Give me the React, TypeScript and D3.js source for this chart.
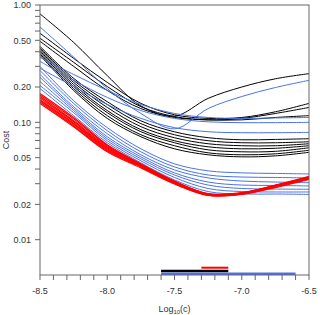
import React from 'react'
import * as d3 from 'd3'

// log10(c) sample positions shared by every curve
const logC = [-8.5, -8.25, -8.0, -7.75, -7.5, -7.25, -7.0, -6.75, -6.5]

const blackCurves: number[][] = [
  [0.84, 0.48, 0.25, 0.138, 0.113, 0.16, 0.2, 0.235, 0.26],
  [0.575, 0.351, 0.219, 0.145, 0.116, 0.108, 0.11, 0.123, 0.145],
  [0.521, 0.325, 0.202, 0.136, 0.112, 0.105, 0.108, 0.119, 0.134],
  [0.491, 0.3, 0.187, 0.131, 0.11, 0.105, 0.105, 0.11, 0.114],
  [0.445, 0.237, 0.15, 0.103, 0.083, 0.074, 0.071, 0.0715, 0.0725],
  [0.432, 0.228, 0.142, 0.0975, 0.0784, 0.0697, 0.067, 0.067, 0.0683],
  [0.42, 0.219, 0.134, 0.0919, 0.0739, 0.0657, 0.0632, 0.0632, 0.0657],
  [0.408, 0.21, 0.126, 0.0866, 0.0697, 0.0619, 0.0595, 0.0601, 0.0632],
  [0.396, 0.202, 0.121, 0.0832, 0.067, 0.0583, 0.0561, 0.0566, 0.0607],
  [0.384, 0.194, 0.114, 0.0784, 0.0632, 0.055, 0.0529, 0.0539, 0.0578],
  [0.373, 0.187, 0.108, 0.0754, 0.0595, 0.0529, 0.0508, 0.0518, 0.0555],
]

const blueCurves: number[][] = [
  [0.65, 0.36, 0.194, 0.119, 0.088, 0.131, 0.166, 0.198, 0.228],
  [0.358, 0.256, 0.187, 0.142, 0.119, 0.11, 0.108, 0.109, 0.11],
  [0.331, 0.228, 0.163, 0.126, 0.108, 0.101, 0.0994, 0.0994, 0.1],
  [0.289, 0.202, 0.142, 0.108, 0.0901, 0.0832, 0.0816, 0.0816, 0.0821],
  [0.3, 0.153, 0.0901, 0.0595, 0.0443, 0.0386, 0.0371, 0.0367, 0.0363],
  [0.277, 0.145, 0.0849, 0.0561, 0.0417, 0.0356, 0.0342, 0.0339, 0.0336],
  [0.256, 0.136, 0.08, 0.0529, 0.0393, 0.0336, 0.0316, 0.031, 0.0306],
  [0.242, 0.131, 0.0754, 0.0508, 0.0371, 0.031, 0.0292, 0.029, 0.0287],
  [0.223, 0.126, 0.0725, 0.0489, 0.0356, 0.0292, 0.0273, 0.027, 0.0269],
  [0.206, 0.121, 0.0697, 0.047, 0.0339, 0.0273, 0.0257, 0.0255, 0.0255],
  [0.194, 0.114, 0.067, 0.0452, 0.0323, 0.0257, 0.0245, 0.0245, 0.0243],
]

const redCurves: number[][] = [
  [0.176, 0.11, 0.0644, 0.0443, 0.0316, 0.0247, 0.0252, 0.0292, 0.0346],
  [0.171, 0.107, 0.0632, 0.0439, 0.0313, 0.0245, 0.025, 0.029, 0.0342],
  [0.166, 0.103, 0.0619, 0.0434, 0.031, 0.0245, 0.025, 0.029, 0.0342],
  [0.161, 0.101, 0.0607, 0.043, 0.031, 0.0243, 0.0247, 0.0287, 0.0339],
  [0.156, 0.0984, 0.0595, 0.0426, 0.0307, 0.0243, 0.0247, 0.0287, 0.0336],
  [0.153, 0.0965, 0.0583, 0.0422, 0.0304, 0.024, 0.0245, 0.0284, 0.0333],
  [0.149, 0.0937, 0.0572, 0.0417, 0.0301, 0.024, 0.0245, 0.0281, 0.0329],
  [0.145, 0.0919, 0.0561, 0.0409, 0.0298, 0.0238, 0.0243, 0.0278, 0.0326],
]

// ranges drawn as bars along the bottom
const redRange = [-7.3, -7.1]
const blackRange = [-7.6, -7.1]
const blueRange = [-7.6, -6.6]

const yLabelTicks = [1, 0.5, 0.2, 0.1, 0.05, 0.02, 0.01]
const yLabelText = ['1.00', '0.50', '0.20', '0.10', '0.05', '0.02', '0.01']
const xLabelTicks = [-8.5, -8.0, -7.5, -7.0, -6.5]

const BLUE = '#4a72e8'
const font = 'Liberation Sans, Arial, sans-serif'

export default function App() {
  const width = 320
  const height = 315
  const left = 40, right = 309, top = 5, bottom = 275

  const x = d3.scaleLinear().domain([-8.5, -6.5]).range([left, right])
  const y = d3.scaleLog().domain([0.005, 1]).range([bottom, top])

  const line = d3.line<number>()
    .x((_, i) => x(logC[i]))
    .y(d => y(d))
    .curve(d3.curveCatmullRom.alpha(0.5))

  // minor ticks: 1..9 per decade from 0.01 to 1
  const yMinor: number[] = []
  for (const dec of [0.01, 0.1]) {
    for (let k = 1; k <= 9; k++) yMinor.push(dec * k)
  }
  yMinor.push(1)
  const xMinor = d3.range(0, 21).map(i => -8.5 + i * 0.1)

  const drawSet = (curves: number[][], color: string, w: number, key: string) =>
    curves.map((c, i) => (
      <path key={key + i} d={line(c) || ''} fill="none" stroke={color} strokeWidth={w} />
    ))

  return (
    <svg width={width} height={height} style={{ position: 'absolute', left: 0, top: 0, background: '#fff' }}>
      {drawSet(blackCurves, '#000', 1, 'k')}
      {drawSet(blueCurves, BLUE, 1, 'b')}
      {drawSet(redCurves, '#f00', 1.2, 'r')}

      <line x1={x(redRange[0])} x2={x(redRange[1])} y1={bottom - 7.3} y2={bottom - 7.3} stroke="#f00" strokeWidth={2} />
      <line x1={x(blackRange[0])} x2={x(blackRange[1])} y1={bottom - 4} y2={bottom - 4} stroke="#000" strokeWidth={2.5} />
      <line x1={x(blueRange[0])} x2={x(blueRange[1])} y1={bottom - 1.3} y2={bottom - 1.3} stroke={BLUE} strokeWidth={2.5} />

      <rect x={left} y={top} width={right - left} height={bottom - top} fill="none" stroke="#666" strokeWidth={1} />

      {yMinor.map((t, i) => (
        <line key={'yt' + i} x1={left - 5} x2={left} y1={y(t)} y2={y(t)} stroke="#666" />
      ))}
      {yLabelTicks.map((t, i) => (
        <text key={'yl' + i} x={left - 9} y={y(t) + 3.2} textAnchor="end" fontSize={9} fontFamily={font} fill="#333">
          {yLabelText[i]}
        </text>
      ))}
      {xMinor.map((t, i) => (
        <line key={'xt' + i} x1={x(t)} x2={x(t)} y1={bottom} y2={bottom + 5} stroke="#666" />
      ))}
      {xLabelTicks.map((t, i) => (
        <text key={'xl' + i} x={x(t)} y={bottom + 19} textAnchor="middle" fontSize={9} fontFamily={font} fill="#333">
          {t.toFixed(1)}
        </text>
      ))}

      <text transform={`translate(9,${(top + bottom) / 2}) rotate(-90)`} textAnchor="middle" fontSize={9} fontFamily={font} fill="#333">
        Cost
      </text>
      <text x={(left + right) / 2} y={bottom + 37} textAnchor="middle" fontSize={9} fontFamily={font} fill="#333">
        Log<tspan fontSize={6} dy={2}>10</tspan><tspan dy={-2}>(c)</tspan>
      </text>
    </svg>
  )
}
